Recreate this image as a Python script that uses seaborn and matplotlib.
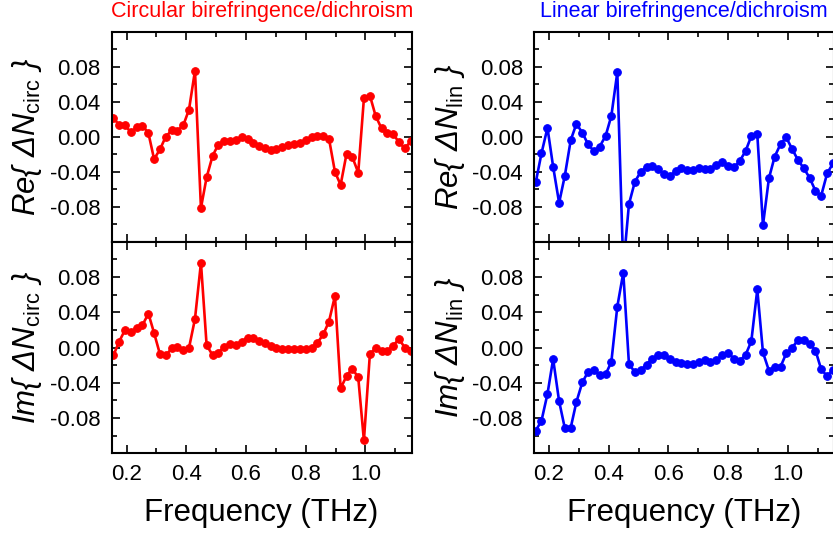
import numpy as np
import matplotlib
matplotlib.use("Agg")
import matplotlib.pyplot as plt
import seaborn as sns
from matplotlib.ticker import MultipleLocator
from matplotlib import font_manager

# frequency grid (THz)
freq = [0.156, 0.175, 0.195, 0.214, 0.234, 0.253, 0.273, 0.292, 0.312, 0.331,
        0.351, 0.370, 0.390, 0.409, 0.429, 0.449, 0.468, 0.488, 0.507, 0.527,
        0.546, 0.566, 0.585, 0.605, 0.624, 0.644, 0.663, 0.683, 0.702, 0.722,
        0.741, 0.761, 0.780, 0.800, 0.820, 0.839, 0.859, 0.878, 0.898, 0.917,
        0.937, 0.956, 0.976, 0.995, 1.015, 1.034, 1.054, 1.073, 1.093, 1.112,
        1.132, 1.152]

re_circ = [0.0215, 0.0132, 0.0132, 0.0049, 0.0109, 0.0128, 0.0041, -0.0256, -0.0143, 0.0000,
           0.0072, 0.0068, 0.0132, 0.0310, 0.0755, -0.0815, -0.0464, -0.0219, -0.0090, -0.0045,
           -0.0053, -0.0034, -0.0008, -0.0023, -0.0068, -0.0102, -0.0132, -0.0155, -0.0143, -0.0117,
           -0.0094, -0.0079, -0.0068, -0.0038, -0.0008, 0.0011, 0.0011, -0.0023, -0.0403, -0.0550,
           -0.0192, -0.0230, -0.0411, 0.0437, 0.0471, 0.0241, 0.0094, 0.0038, 0.0034, -0.0064,
           -0.0132, -0.0053]

im_circ = [-0.0086, 0.0067, 0.0202, 0.0172, 0.0224, 0.0254, 0.0385, 0.0164, -0.0079, -0.0090,
           -0.0011, 0.0011, -0.0026, -0.0004, 0.0325, 0.0961, 0.0026, -0.0086, -0.0060, 0.0011,
           0.0045, 0.0034, 0.0067, 0.0112, 0.0108, 0.0079, 0.0052, 0.0019, -0.0007, -0.0019,
           -0.0019, -0.0019, -0.0019, -0.0019, -0.0004, 0.0052, 0.0150, 0.0295, 0.0587, -0.0464,
           -0.0321, -0.0239, -0.0340, -0.1054, -0.0075, -0.0007, -0.0034, -0.0034, 0.0019, 0.0097,
           0.0000, -0.0041]

re_lin = [-0.0517, -0.0189, 0.0102, -0.0343, -0.0755, -0.0449, -0.0038, 0.0147, 0.0045, -0.0087,
          -0.0166, -0.0113, 0.0011, 0.0238, 0.0736, -0.1500, -0.0770, -0.0513, -0.0404, -0.0343,
          -0.0332, -0.0370, -0.0430, -0.0449, -0.0396, -0.0362, -0.0377, -0.0377, -0.0358, -0.0366,
          -0.0366, -0.0328, -0.0294, -0.0332, -0.0351, -0.0279, -0.0162, 0.0008, 0.0026, -0.1011,
          -0.0475, -0.0230, -0.0083, -0.0008, -0.0143, -0.0264, -0.0362, -0.0468, -0.0619, -0.0675,
          -0.0419, -0.0302]

im_lin = [-0.0942, -0.0830, -0.0527, -0.0131, -0.0609, -0.0912, -0.0908, -0.0617, -0.0393, -0.0277,
          -0.0258, -0.0314, -0.0303, -0.0164, 0.0464, 0.0849, -0.0187, -0.0280, -0.0258, -0.0194,
          -0.0127, -0.0086, -0.0086, -0.0127, -0.0164, -0.0172, -0.0183, -0.0187, -0.0161, -0.0146,
          -0.0161, -0.0146, -0.0082, -0.0060, -0.0127, -0.0153, -0.0082, 0.0071, 0.0658, -0.0056,
          -0.0262, -0.0217, -0.0217, -0.0067, 0.0000, 0.0082, 0.0090, 0.0045, -0.0034, -0.0247,
          -0.0325, -0.0250]

titles = ["Circular birefringence/dichroism", "Linear birefringence/dichroism"]
colors = ["#ff0000", "#0000ff"]
subs = ["circ", "lin"]
yticks = [-0.08, -0.04, 0.00, 0.04, 0.08]
xticks = [0.2, 0.4, 0.6, 0.8, 1.0]

sns.set_style("ticks")
names = {f.name for f in font_manager.fontManager.ttflist}
plt.rcParams["font.family"] = ["Liberation Sans", "DejaVu Sans"]
plt.rcParams["mathtext.fontset"] = "custom"
plt.rcParams["mathtext.rm"] = "Liberation Sans"
plt.rcParams["mathtext.it"] = "Liberation Sans:italic"
for k in ["text.color", "axes.labelcolor", "xtick.color", "ytick.color", "axes.edgecolor"]:
    plt.rcParams[k] = "black"
title_font = ["Liberation Sans Narrow", "Liberation Sans"] if "Liberation Sans Narrow" in names else ["Liberation Sans"]

fig = plt.figure(figsize=(8.33, 5.35), dpi=100)
lefts = [0.1341, 0.6411]
w = 0.3601

for col in range(2):
    ax_top = fig.add_axes([lefts[col], 0.5482, w, 0.3925])
    ax_bot = fig.add_axes([lefts[col], 0.1527, w, 0.3955])
    series = [re_circ, im_circ] if col == 0 else [re_lin, im_lin]
    for ax, vals, part in zip([ax_top, ax_bot], series, ["Re", "Im"]):
        sns.lineplot(x=freq, y=vals, marker="o", color=colors[col], lw=1.9,
                     markersize=5.5, markeredgecolor=colors[col], estimator=None,
                     sort=False, ax=ax)
        ax.set_xlim(0.15, 1.155)
        ax.set_ylim(-0.12, 0.12)
        ax.set_yticks(yticks)
        ax.set_yticklabels(["%.2f" % t for t in yticks])
        ax.set_xticks(xticks)
        ax.xaxis.set_minor_locator(MultipleLocator(0.1))
        ax.yaxis.set_minor_locator(MultipleLocator(0.02))
        ax.tick_params(which="both", direction="in", top=True, right=True, width=1.2)
        ax.tick_params(which="major", length=6, labelsize=16, pad=8)
        ax.tick_params(which="minor", length=3.5)
        for sp in ax.spines.values():
            sp.set_linewidth(1.5)
        ax.set_ylabel("%s{ ΔN$_{\\mathrm{%s}}$ }" % (part, subs[col]),
                      fontsize=22.5, fontstyle="italic", labelpad=4)
    ax_top.tick_params(labelbottom=False)
    ax_bot.set_xticklabels(["%.1f" % t for t in xticks])
    ax_bot.set_xlabel("Frequency (THz)", fontsize=22.5, labelpad=9)
    fig.text(lefts[col] + w / 2, 0.978, titles[col], color=colors[col],
             fontsize=15.5, family=title_font, ha="center", va="center")

plt.savefig("out.png", dpi=100)
